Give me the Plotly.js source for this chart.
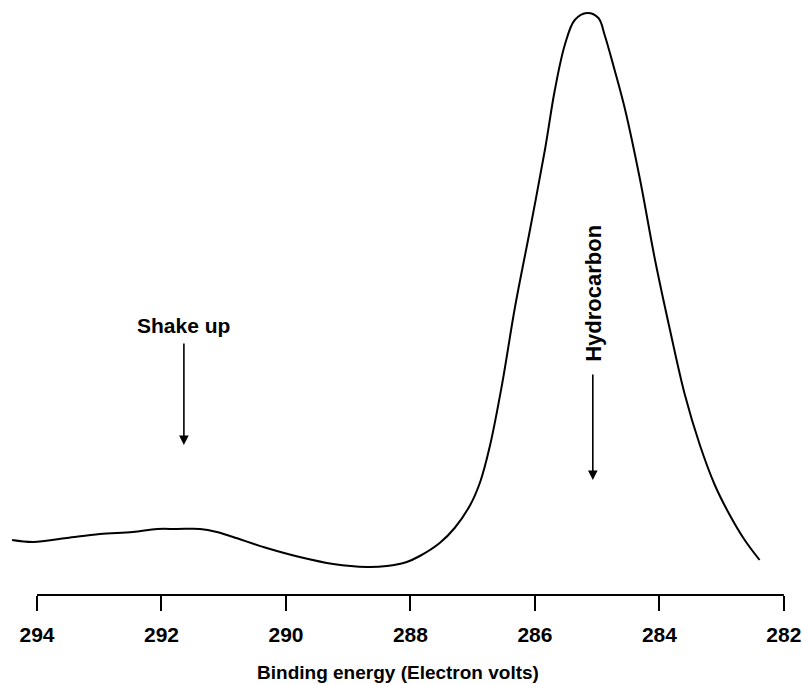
<!DOCTYPE html>
<html>
<head>
<meta charset="utf-8">
<script src="https://cdn.plot.ly/plotly-3.0.1.min.js"></script>
<style>html,body{margin:0;padding:0;background:#fff;}#chart{width:802px;height:684px;}</style>
</head>
<body>
<div id="chart"></div>
<script>
// Binding energy (eV) and relative intensity
const energy = [294.40, 294.06, 293.52, 292.99, 292.46, 292.07, 291.75, 291.38, 291.11, 290.85,
                290.31, 289.78, 289.24, 288.70, 288.38, 288.06, 287.85, 287.53, 287.29, 287.04,
                286.88, 286.72, 286.53, 286.32, 286.08, 285.84, 285.68, 285.52, 285.36, 285.16,
                284.98, 284.88, 284.72, 284.55, 284.31, 284.07, 283.83, 283.59, 283.35, 283.11,
                282.87, 282.63, 282.39];
const intensity = [60, 58, 62, 66, 68, 71, 71, 71, 68, 63,
                   52, 43, 36, 33, 34, 38, 44, 57, 72, 95,
                   118, 155, 215, 293, 370, 450, 510, 555, 580, 587,
                   582, 565, 530, 490, 420, 340, 270, 205, 155, 115,
                   85, 60, 40];
const tickValues = [294, 292, 290, 288, 286, 284, 282];
const tickLabels = ["294", "292", "290", "288", "286", "284", "282"];
const axisStart = 294, axisEnd = 282;
// annotation anchors
const shakeUp = {label: "Shake up", energy: 291.64, tip: 155, textY: 275};
const hydrocarbon = {label: "Hydrocarbon", energy: 285.07, tip: 120, textY: 307};

const font = "'Liberation Sans', Arial, Helvetica, sans-serif";

const trace = {
  x: energy, y: intensity, type: 'scatter', mode: 'lines',
  line: {color: '#000', width: 2, shape: 'spline', smoothing: 1},
  hoverinfo: 'skip'
};

const layout = {
  width: 802, height: 684,
  margin: {l: 9, r: 15, t: 0, b: 89},
  paper_bgcolor: '#fff', plot_bgcolor: '#fff',
  showlegend: false,
  font: {family: font, color: '#000'},
  xaxis: {
    range: [294.45, 281.95],
    tickmode: 'array', tickvals: tickValues, ticktext: tickLabels,
    ticks: 'outside', ticklen: 15, tickwidth: 2, tickcolor: '#000',
    ticklabelstandoff: 6,
    showline: false, showgrid: false, zeroline: false,
    tickfont: {family: font, size: 21, weight: 'bold', color: '#000'},
    title: {text: 'Binding energy (Electron volts)', standoff: 20,
            font: {family: font, size: 19, weight: 'bold', color: '#000'}},
    automargin: false, fixedrange: true
  },
  yaxis: {
    range: [5, 600], visible: false, fixedrange: true
  },
  shapes: [
    {type: 'line', xref: 'x', yref: 'paper', x0: axisStart, x1: axisEnd, y0: 0, y1: 0,
     line: {color: '#000', width: 2}}
  ],
  annotations: [
    {x: shakeUp.energy, y: shakeUp.textY, xref: 'x', yref: 'y', text: shakeUp.label,
     showarrow: false, font: {family: font, size: 21, weight: 'bold', color: '#000'}},
    {x: shakeUp.energy, y: shakeUp.tip, xref: 'x', yref: 'y', text: '',
     showarrow: true, ax: 0, ay: -103, arrowhead: 2, arrowsize: 1.2, arrowwidth: 1.6, arrowcolor: '#000'},
    {x: hydrocarbon.energy, y: hydrocarbon.textY, xref: 'x', yref: 'y', text: hydrocarbon.label,
     textangle: -90, showarrow: false, font: {family: font, size: 22, weight: 'bold', color: '#000'}},
    {x: hydrocarbon.energy, y: hydrocarbon.tip, xref: 'x', yref: 'y', text: '',
     showarrow: true, ax: 0, ay: -107, arrowhead: 2, arrowsize: 1.2, arrowwidth: 1.6, arrowcolor: '#000'}
  ]
};

Plotly.newPlot('chart', [trace], layout, {displayModeBar: false, staticPlot: true});
</script>
</body>
</html>
